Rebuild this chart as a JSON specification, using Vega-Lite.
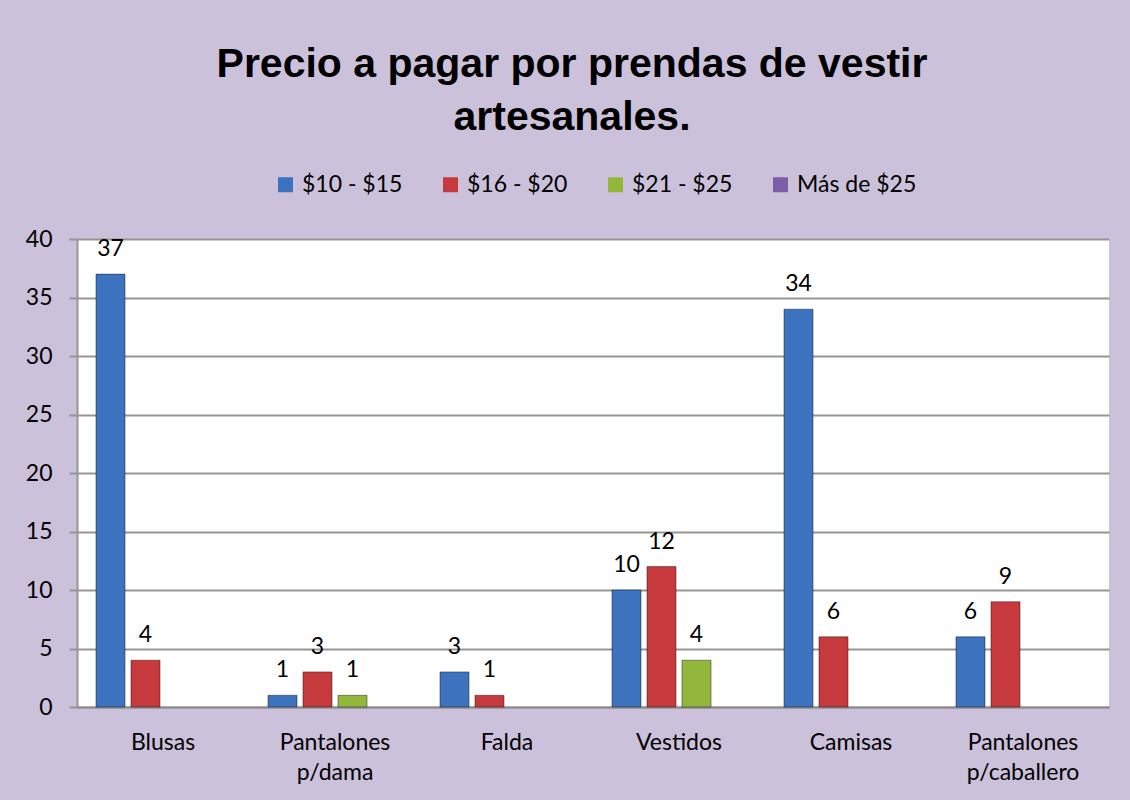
{
  "$schema": "https://vega.github.io/schema/vega-lite/v6.json",
  "width": 1032,
  "height": 468,
  "autosize": {"type": "none"},
  "padding": {"left": 77, "top": 239, "right": 21, "bottom": 93},
  "background": "#CCC1DA",
  "title": {
    "text": ["Precio a pagar por prendas de vestir", "artesanales."],
    "font": "Liberation Sans Narrow, Liberation Sans, Arial",
    "fontSize": 41,
    "fontWeight": "bold",
    "color": "#000000",
    "anchor": "middle",
    "frame": "group",
    "dx": -21,
    "lineHeight": 53,
    "offset": 34
  },
  "config": {
    "view": {"stroke": null, "fill": "#FFFFFF"},
    "font": "Lato"
  },
  "data": {
    "values": [
      {"prenda": "Blusas", "rango": "$10 - $15", "valor": 37},
      {"prenda": "Blusas", "rango": "$16 - $20", "valor": 4},
      {"prenda": "Pantalones p/dama", "rango": "$10 - $15", "valor": 1},
      {"prenda": "Pantalones p/dama", "rango": "$16 - $20", "valor": 3},
      {"prenda": "Pantalones p/dama", "rango": "$21 - $25", "valor": 1},
      {"prenda": "Falda", "rango": "$10 - $15", "valor": 3},
      {"prenda": "Falda", "rango": "$16 - $20", "valor": 1},
      {"prenda": "Vestidos", "rango": "$10 - $15", "valor": 10},
      {"prenda": "Vestidos", "rango": "$16 - $20", "valor": 12},
      {"prenda": "Vestidos", "rango": "$21 - $25", "valor": 4},
      {"prenda": "Camisas", "rango": "$10 - $15", "valor": 34},
      {"prenda": "Camisas", "rango": "$16 - $20", "valor": 6},
      {"prenda": "Pantalones p/caballero", "rango": "$10 - $15", "valor": 6},
      {"prenda": "Pantalones p/caballero", "rango": "$16 - $20", "valor": 9}
    ]
  },
  "encoding": {
    "x": {
      "field": "prenda",
      "type": "nominal",
      "sort": ["Blusas", "Pantalones p/dama", "Falda", "Vestidos", "Camisas", "Pantalones p/caballero"],
      "scale": {"paddingInner": 0.186, "paddingOuter": 0.093},
      "axis": {
        "title": null,
        "labelAngle": 0,
        "labelExpr": "split(datum.label, ' ')",
        "labelFont": "Lato",
        "labelFontSize": 23,
        "labelColor": "#000000",
        "labelLineHeight": 30,
        "labelPadding": 24,
        "ticks": false,
        "domainColor": "#8C8C8C",
        "domainWidth": 2
      }
    },
    "xOffset": {
      "field": "rango",
      "type": "nominal",
      "scale": {"domain": ["$10 - $15", "$16 - $20", "$21 - $25", "Más de $25"], "paddingInner": 0.17, "paddingOuter": 0.085}
    },
    "y": {
      "field": "valor",
      "type": "quantitative",
      "scale": {"domain": [0, 40], "nice": false},
      "axis": {
        "title": null,
        "values": [0, 5, 10, 15, 20, 25, 30, 35, 40],
        "grid": true,
        "gridColor": "#959595",
        "gridWidth": 2,
        "domainColor": "#959595",
        "domainWidth": 2,
        "tickColor": "#959595",
        "tickWidth": 2,
        "tickSize": 8,
        "labelPadding": 17,
        "labelFont": "Lato",
        "labelFontSize": 23,
        "labelColor": "#000000"
      }
    }
  },
  "layer": [
    {
      "mark": {"type": "bar", "stroke": "#000000", "strokeOpacity": 0.4, "strokeWidth": 1},
      "encoding": {
        "color": {
          "field": "rango",
          "type": "nominal",
          "scale": {
            "domain": ["$10 - $15", "$16 - $20", "$21 - $25", "Más de $25"],
            "range": ["#3C72BE", "#C63A3D", "#93B73D", "#7D5DA8"]
          },
          "legend": {
            "title": null,
            "orient": "none",
            "legendX": 197,
            "legendY": -66,
            "direction": "horizontal",
            "symbolType": "square",
            "symbolSize": 225,
            "symbolStrokeWidth": 0,
            "symbolOpacity": 1,
            "labelFont": "Lato",
            "labelFontSize": 23,
            "labelColor": "#000000",
            "labelOffset": 5,
            "columnPadding": 36
          }
        }
      }
    },
    {
      "mark": {"type": "text", "dy": -18, "baseline": "alphabetic", "font": "Lato", "fontSize": 23, "color": "#000000"},
      "encoding": {"text": {"field": "valor", "type": "quantitative"}}
    }
  ]
}
